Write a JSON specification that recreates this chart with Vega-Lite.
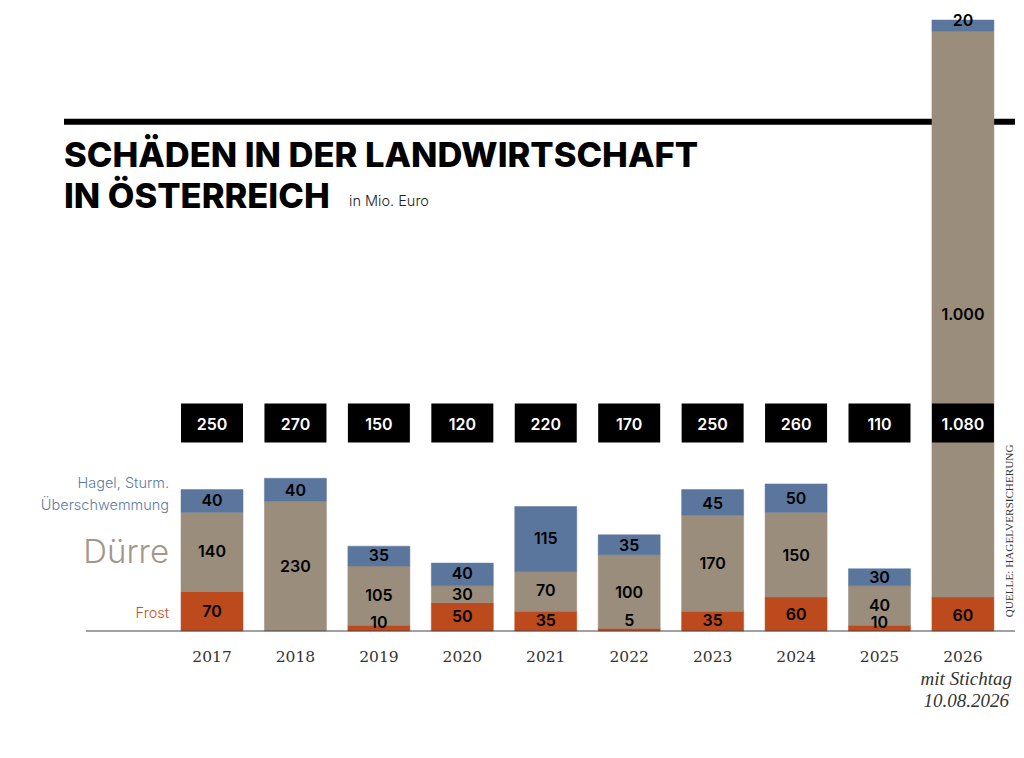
{
  "$schema": "https://vega.github.io/schema/vega-lite/v6.json",
  "autosize": {"type": "none"},
  "padding": {"left": 64, "right": 9, "top": 0, "bottom": 127},
  "width": 951,
  "height": 631,
  "background": "white",
  "config": {"view": {"stroke": null}},
  "datasets": {
    "parts": [
      {"year": 2017, "kind": "Frost", "from": 0, "to": 70, "label": "70", "at": 34},
      {"year": 2017, "kind": "Dürre", "from": 70, "to": 210, "label": "140", "at": 139},
      {"year": 2017, "kind": "Hagel", "from": 210, "to": 250, "label": "40", "at": 229},
      {"year": 2018, "kind": "Dürre", "from": 0, "to": 230, "label": "230", "at": 114},
      {"year": 2018, "kind": "Hagel", "from": 230, "to": 270, "label": "40", "at": 248},
      {"year": 2019, "kind": "Frost", "from": 0, "to": 10, "label": "10", "at": 15},
      {"year": 2019, "kind": "Dürre", "from": 10, "to": 115, "label": "105", "at": 61},
      {"year": 2019, "kind": "Hagel", "from": 115, "to": 150, "label": "35", "at": 132},
      {"year": 2020, "kind": "Frost", "from": 0, "to": 50, "label": "50", "at": 24},
      {"year": 2020, "kind": "Dürre", "from": 50, "to": 80, "label": "30", "at": 63},
      {"year": 2020, "kind": "Hagel", "from": 80, "to": 120, "label": "40", "at": 100},
      {"year": 2021, "kind": "Frost", "from": 0, "to": 35, "label": "35", "at": 17},
      {"year": 2021, "kind": "Dürre", "from": 35, "to": 105, "label": "70", "at": 70},
      {"year": 2021, "kind": "Hagel", "from": 105, "to": 220, "label": "115", "at": 162},
      {"year": 2022, "kind": "Frost", "from": 0, "to": 5, "label": "5", "at": 18},
      {"year": 2022, "kind": "Dürre", "from": 5, "to": 135, "label": "100", "at": 68},
      {"year": 2022, "kind": "Hagel", "from": 135, "to": 170, "label": "35", "at": 151},
      {"year": 2023, "kind": "Frost", "from": 0, "to": 35, "label": "35", "at": 17},
      {"year": 2023, "kind": "Dürre", "from": 35, "to": 205, "label": "170", "at": 119},
      {"year": 2023, "kind": "Hagel", "from": 205, "to": 250, "label": "45", "at": 225},
      {"year": 2024, "kind": "Frost", "from": 0, "to": 60, "label": "60", "at": 29},
      {"year": 2024, "kind": "Dürre", "from": 60, "to": 210, "label": "150", "at": 133},
      {"year": 2024, "kind": "Hagel", "from": 210, "to": 260, "label": "50", "at": 234},
      {"year": 2025, "kind": "Frost", "from": 0, "to": 10, "label": "10", "at": 15},
      {"year": 2025, "kind": "Dürre", "from": 10, "to": 80, "label": "40", "at": 44},
      {"year": 2025, "kind": "Hagel", "from": 80, "to": 110, "label": "30", "at": 94},
      {"year": 2026, "kind": "Frost", "from": 0, "to": 60, "label": "60", "at": 27},
      {"year": 2026, "kind": "Dürre", "from": 60, "to": 1060, "label": "1.000", "at": 558},
      {"year": 2026, "kind": "Hagel", "from": 1060, "to": 1080, "label": "20", "at": 1079}
    ],
    "totals": [
      {"year": 2017, "total": "250"},
      {"year": 2018, "total": "270"},
      {"year": 2019, "total": "150"},
      {"year": 2020, "total": "120"},
      {"year": 2021, "total": "220"},
      {"year": 2022, "total": "170"},
      {"year": 2023, "total": "250"},
      {"year": 2024, "total": "260"},
      {"year": 2025, "total": "110"},
      {"year": 2026, "total": "1.080"}
    ]
  },
  "encoding": {
    "y": {"type": "quantitative", "scale": {"domain": [0, 1115.4], "nice": false}, "axis": null}
  },
  "layer": [
    {
      "data": {"values": [{}]},
      "mark": {"type": "rule", "color": "black", "strokeWidth": 6},
      "encoding": {
        "x": {"datum": 2015.226, "type": "quantitative", "axis": null, "scale": {"domain": [2015.226, 2026.624], "nice": false, "zero": false, "padding": 0}},
        "x2": {"datum": 2026.624},
        "y": {"datum": 900}
      }
    },
    {
      "data": {"name": "parts"},
      "mark": {"type": "bar", "width": 62, "strokeWidth": 0.5},
      "encoding": {
        "x": {"field": "year", "type": "quantitative", "axis": null},
        "y": {"field": "from", "type": "quantitative"},
        "y2": {"field": "to"},
        "color": {"field": "kind", "type": "nominal", "legend": null, "scale": {"domain": ["Frost", "Dürre", "Hagel"], "range": ["#bc4a1c", "#9a8d7c", "#5b769d"]}},
        "stroke": {"field": "kind", "type": "nominal", "legend": null, "scale": {"domain": ["Frost", "Dürre", "Hagel"], "range": ["#bc4a1c", "#9a8d7c", "#5b769d"]}}
      }
    },
    {
      "data": {"name": "totals"},
      "mark": {"type": "bar", "width": 62, "color": "black"},
      "encoding": {"x": {"field": "year", "type": "quantitative", "axis": null}, "y": {"datum": 333}, "y2": {"datum": 402}}
    },
    {
      "data": {"name": "totals"},
      "mark": {"type": "text", "font": "Inter", "fontSize": 16, "fontWeight": 600, "color": "white"},
      "encoding": {"x": {"field": "year", "type": "quantitative", "axis": null}, "y": {"datum": 365}, "text": {"field": "total"}}
    },
    {
      "data": {"name": "parts"},
      "mark": {"type": "text", "font": "Inter", "fontSize": 16, "fontWeight": 600, "color": "black"},
      "encoding": {"x": {"field": "year", "type": "quantitative", "axis": null}, "y": {"field": "at", "type": "quantitative"}, "text": {"field": "label"}}
    },
    {
      "data": {"values": [{"year": 2017}, {"year": 2018}, {"year": 2019}, {"year": 2020}, {"year": 2021}, {"year": 2022}, {"year": 2023}, {"year": 2024}, {"year": 2025}, {"year": 2026}]},
      "mark": {"type": "text", "font": "DejaVu Serif", "fontSize": 15.5, "color": "#333333"},
      "encoding": {"x": {"field": "year", "type": "quantitative", "axis": null}, "y": {"datum": -46}, "text": {"field": "year", "type": "nominal"}}
    },
    {
      "data": {"values": [{}]},
      "mark": {"type": "rule", "color": "#444444", "strokeWidth": 1},
      "encoding": {"x": {"datum": 2015.49, "type": "quantitative", "axis": null}, "x2": {"datum": 2026.624}, "y": {"datum": 0}}
    },
    {
      "data": {"values": [{"t": "Frost", "pos": 30, "c": "#c5532a", "s": 14.5}, {"t": "Überschwemmung", "pos": 221, "c": "#5f7ba3", "s": 14.5}, {"t": "Hagel, Sturm.", "pos": 260, "c": "#5f7ba3", "s": 14.5}, {"t": "Dürre", "pos": 137, "c": "#a3978a", "s": 33}]},
      "mark": {"type": "text", "align": "right", "font": "Inter", "fontWeight": 300},
      "encoding": {
        "x": {"datum": 2016.485, "type": "quantitative", "axis": null},
        "y": {"field": "pos", "type": "quantitative"},
        "text": {"field": "t"},
        "color": {"field": "c", "type": "nominal", "scale": null},
        "size": {"field": "s", "type": "quantitative", "scale": null}
      }
    },
    {
      "data": {"values": [{"t": "SCHÄDEN IN DER LANDWIRTSCHAFT", "pos": 838}, {"t": "IN ÖSTERREICH", "pos": 765}]},
      "mark": {"type": "text", "align": "left", "font": "Inter", "fontWeight": 800, "fontSize": 34.5, "color": "black"},
      "encoding": {"x": {"datum": 2015.226, "type": "quantitative", "axis": null}, "y": {"field": "pos", "type": "quantitative"}, "text": {"field": "t"}}
    },
    {
      "data": {"values": [{"t": "in Mio. Euro"}]},
      "mark": {"type": "text", "align": "left", "font": "Inter", "fontWeight": 300, "fontSize": 14.5, "color": "#222222"},
      "encoding": {"x": {"datum": 2018.642, "type": "quantitative", "axis": null}, "y": {"datum": 758}, "text": {"field": "t"}}
    },
    {
      "data": {"values": [{"t": "mit Stichtag", "pos": -85}, {"t": "10.08.2026", "pos": -124}]},
      "mark": {"type": "text", "font": "Liberation Serif", "fontStyle": "italic", "fontSize": 19, "color": "#333333"},
      "encoding": {"x": {"datum": 2026.04, "type": "quantitative", "axis": null}, "y": {"field": "pos", "type": "quantitative"}, "text": {"field": "t"}}
    },
    {
      "data": {"values": [{"t": "QUELLE: HAGELVERSICHERUNG"}]},
      "mark": {"type": "text", "font": "Liberation Serif", "fontSize": 11.2, "angle": 270, "color": "#333333"},
      "encoding": {"x": {"datum": 2026.564, "type": "quantitative", "axis": null}, "y": {"datum": 177}, "text": {"field": "t"}}
    }
  ]
}
